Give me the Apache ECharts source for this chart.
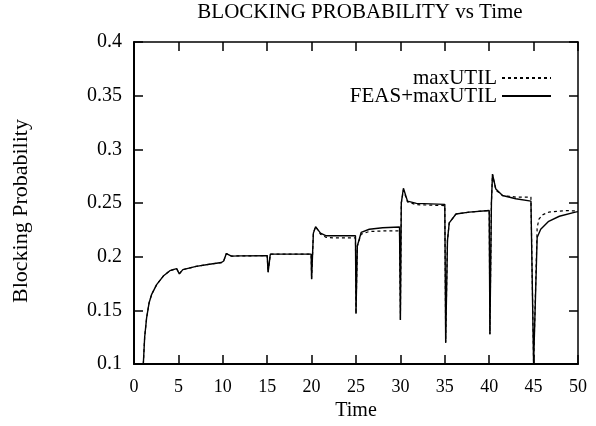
<!DOCTYPE html>
<html>
<head>
<meta charset="utf-8">
<script src="https://cdn.jsdelivr.net/npm/echarts@6/dist/echarts.min.js"></script>
<style>html,body{margin:0;padding:0;background:#fff}#c{width:596px;height:426px}</style>
</head>
<body>
<div id="c"></div>
<script>
const titleText = 'BLOCKING PROBABILITY vs Time';
const xName = 'Time';
const yName = 'Blocking Probability';
const seriesNames = ['maxUTIL', 'FEAS+maxUTIL'];
const xTickLabels = ['0','5','10','15','20','25','30','35','40','45','50'];
const yTickLabels = ['0.1','0.15','0.2','0.25','0.3','0.35','0.4'];

// FEAS+maxUTIL (solid)
const feasT = [1.05,1.2,1.42,1.7,1.99,2.55,3.3,4.04,4.8,4.95,5.1,5.5,7.0,8.5,9.85,10.1,10.4,10.97,12,15.0,15.1,15.35,19.95,20.0,20.2,20.45,21.0,21.65,24.94,25.0,25.15,25.58,26.5,28.0,29.9,30.0,30.1,30.34,30.8,31.8,35.0,35.1,35.3,35.5,36.26,37.75,40.0,40.08,40.25,40.37,40.75,41.5,43,44.7,44.9,45.0,45.15,45.4,45.8,46.7,47.9,49.7,50];
const feasY = [0.1,0.125,0.143,0.157,0.165,0.174,0.182,0.187,0.189,0.19,0.184,0.188,0.191,0.193,0.1946,0.196,0.203,0.2006,0.2008,0.201,0.1855,0.2024,0.2024,0.179,0.222,0.228,0.222,0.2195,0.2195,0.147,0.21,0.2226,0.2256,0.227,0.2277,0.141,0.25,0.2638,0.2518,0.2497,0.2488,0.12,0.215,0.2316,0.2398,0.2415,0.243,0.1277,0.25,0.2768,0.263,0.257,0.254,0.2518,0.2515,0.1,0.1,0.218,0.2256,0.233,0.2377,0.2415,0.242];

// maxUTIL (dashed)
const maxT = [1.05,1.2,1.42,1.7,1.99,2.55,3.3,4.04,4.8,4.95,5.1,5.5,7.0,8.5,9.85,10.1,10.4,10.97,12,15.0,15.1,15.35,19.95,20.0,20.2,20.45,21.0,21.65,22.5,24.94,25.0,25.15,25.58,26.5,28.0,29.9,30.0,30.1,30.34,30.8,31.8,35.0,35.1,35.3,35.5,36.26,37.75,40.0,40.08,40.25,40.37,40.75,41.5,43,44.7,44.9,45.0,45.15,45.4,45.6,46.0,46.7,48.6,50];
const maxY = [0.1,0.125,0.143,0.157,0.165,0.174,0.182,0.187,0.189,0.19,0.184,0.188,0.191,0.193,0.1946,0.196,0.203,0.2006,0.2008,0.201,0.1855,0.2024,0.2024,0.179,0.222,0.228,0.221,0.218,0.2175,0.2175,0.147,0.21,0.221,0.2235,0.224,0.224,0.141,0.25,0.262,0.251,0.2485,0.2476,0.12,0.215,0.2316,0.2398,0.2415,0.243,0.1277,0.25,0.2768,0.262,0.257,0.2556,0.2556,0.2555,0.1,0.1,0.227,0.235,0.239,0.2415,0.243,0.2425];

const zip = (a, b) => a.map((v, i) => [v, b[i]]);
const FONT = 'Liberation Serif';

const chart = echarts.init(document.getElementById('c'), null, {renderer: 'canvas'});
const xFmt = v => xTickLabels[Math.round(v / 5)] ?? '';
const yFmt = v => yTickLabels[Math.round((v - 0.1) / 0.05)] ?? '';

const baseX = {
  type: 'value', min: 0, max: 50, interval: 5,
  splitLine: {show: false},
  axisTick: {inside: true, length: 9, lineStyle: {color: '#000', width: 1.5}},
};
const baseY = {
  type: 'value', min: 0.1, max: 0.4, interval: 0.05,
  splitLine: {show: false},
  axisTick: {inside: true, length: 9, lineStyle: {color: '#000', width: 1.5}},
};

const legendCommon = {
  right: 44, align: 'right', orient: 'vertical', padding: 0,
  itemWidth: 49, itemHeight: 10,
  itemStyle: {opacity: 0},
  textStyle: {fontFamily: FONT, fontSize: 21, color: '#000', lineHeight: 22}
};

chart.setOption({
  animation: false,
  backgroundColor: '#fff',
  title: {
    text: titleText, left: 355, top: -3, textAlign: 'center',
    textStyle: {fontFamily: FONT, fontSize: 21, fontWeight: 'normal', color: '#000'}
  },
  legend: [
    Object.assign({}, legendCommon, {data: [seriesNames[0]], top: 67}),
    Object.assign({}, legendCommon, {data: [seriesNames[1]], top: 85})
  ],
  grid: {left: 134, right: 18, top: 42, bottom: 52, containLabel: false},
  xAxis: [
    Object.assign({}, baseX, {
      position: 'bottom',
      name: xName, nameLocation: 'middle', nameGap: 33,
      nameTextStyle: {fontFamily: FONT, fontSize: 20, color: '#000'},
      axisLine: {show: true, onZero: false, lineStyle: {color: '#000', width: 2}},
      axisLabel: {margin: 14, formatter: xFmt, fontFamily: FONT, fontSize: 18, color: '#000'}
    }),
    Object.assign({}, baseX, {
      position: 'top',
      axisLine: {show: true, onZero: false, lineStyle: {color: '#000', width: 1.5}},
      axisLabel: {show: false}
    })
  ],
  yAxis: [
    Object.assign({}, baseY, {
      position: 'left',
      name: yName, nameLocation: 'middle', nameGap: 102, nameRotate: 90,
      nameTextStyle: {fontFamily: FONT, fontSize: 22, color: '#000', padding: [0, 16, 0, 0]},
      axisLine: {show: true, onZero: false, lineStyle: {color: '#000', width: 2}},
      axisLabel: {margin: 12, formatter: yFmt, fontFamily: FONT, fontSize: 20, color: '#000'}
    }),
    Object.assign({}, baseY, {
      position: 'right',
      axisLine: {show: true, onZero: false, lineStyle: {color: '#000', width: 1.5}},
      axisLabel: {show: false}
    })
  ],
  series: [
    {
      name: seriesNames[0], type: 'line', data: zip(maxT, maxY),
      xAxisIndex: 0, yAxisIndex: 0,
      symbol: 'none', color: '#000',
      lineStyle: {color: '#000', width: 1.2, type: [3, 3]},
      z: 2
    },
    {
      name: seriesNames[1], type: 'line', data: zip(feasT, feasY),
      xAxisIndex: 0, yAxisIndex: 0,
      symbol: 'none', color: '#000',
      lineStyle: {color: '#000', width: 1.4},
      z: 3
    }
  ]
});
</script>
</body>
</html>
